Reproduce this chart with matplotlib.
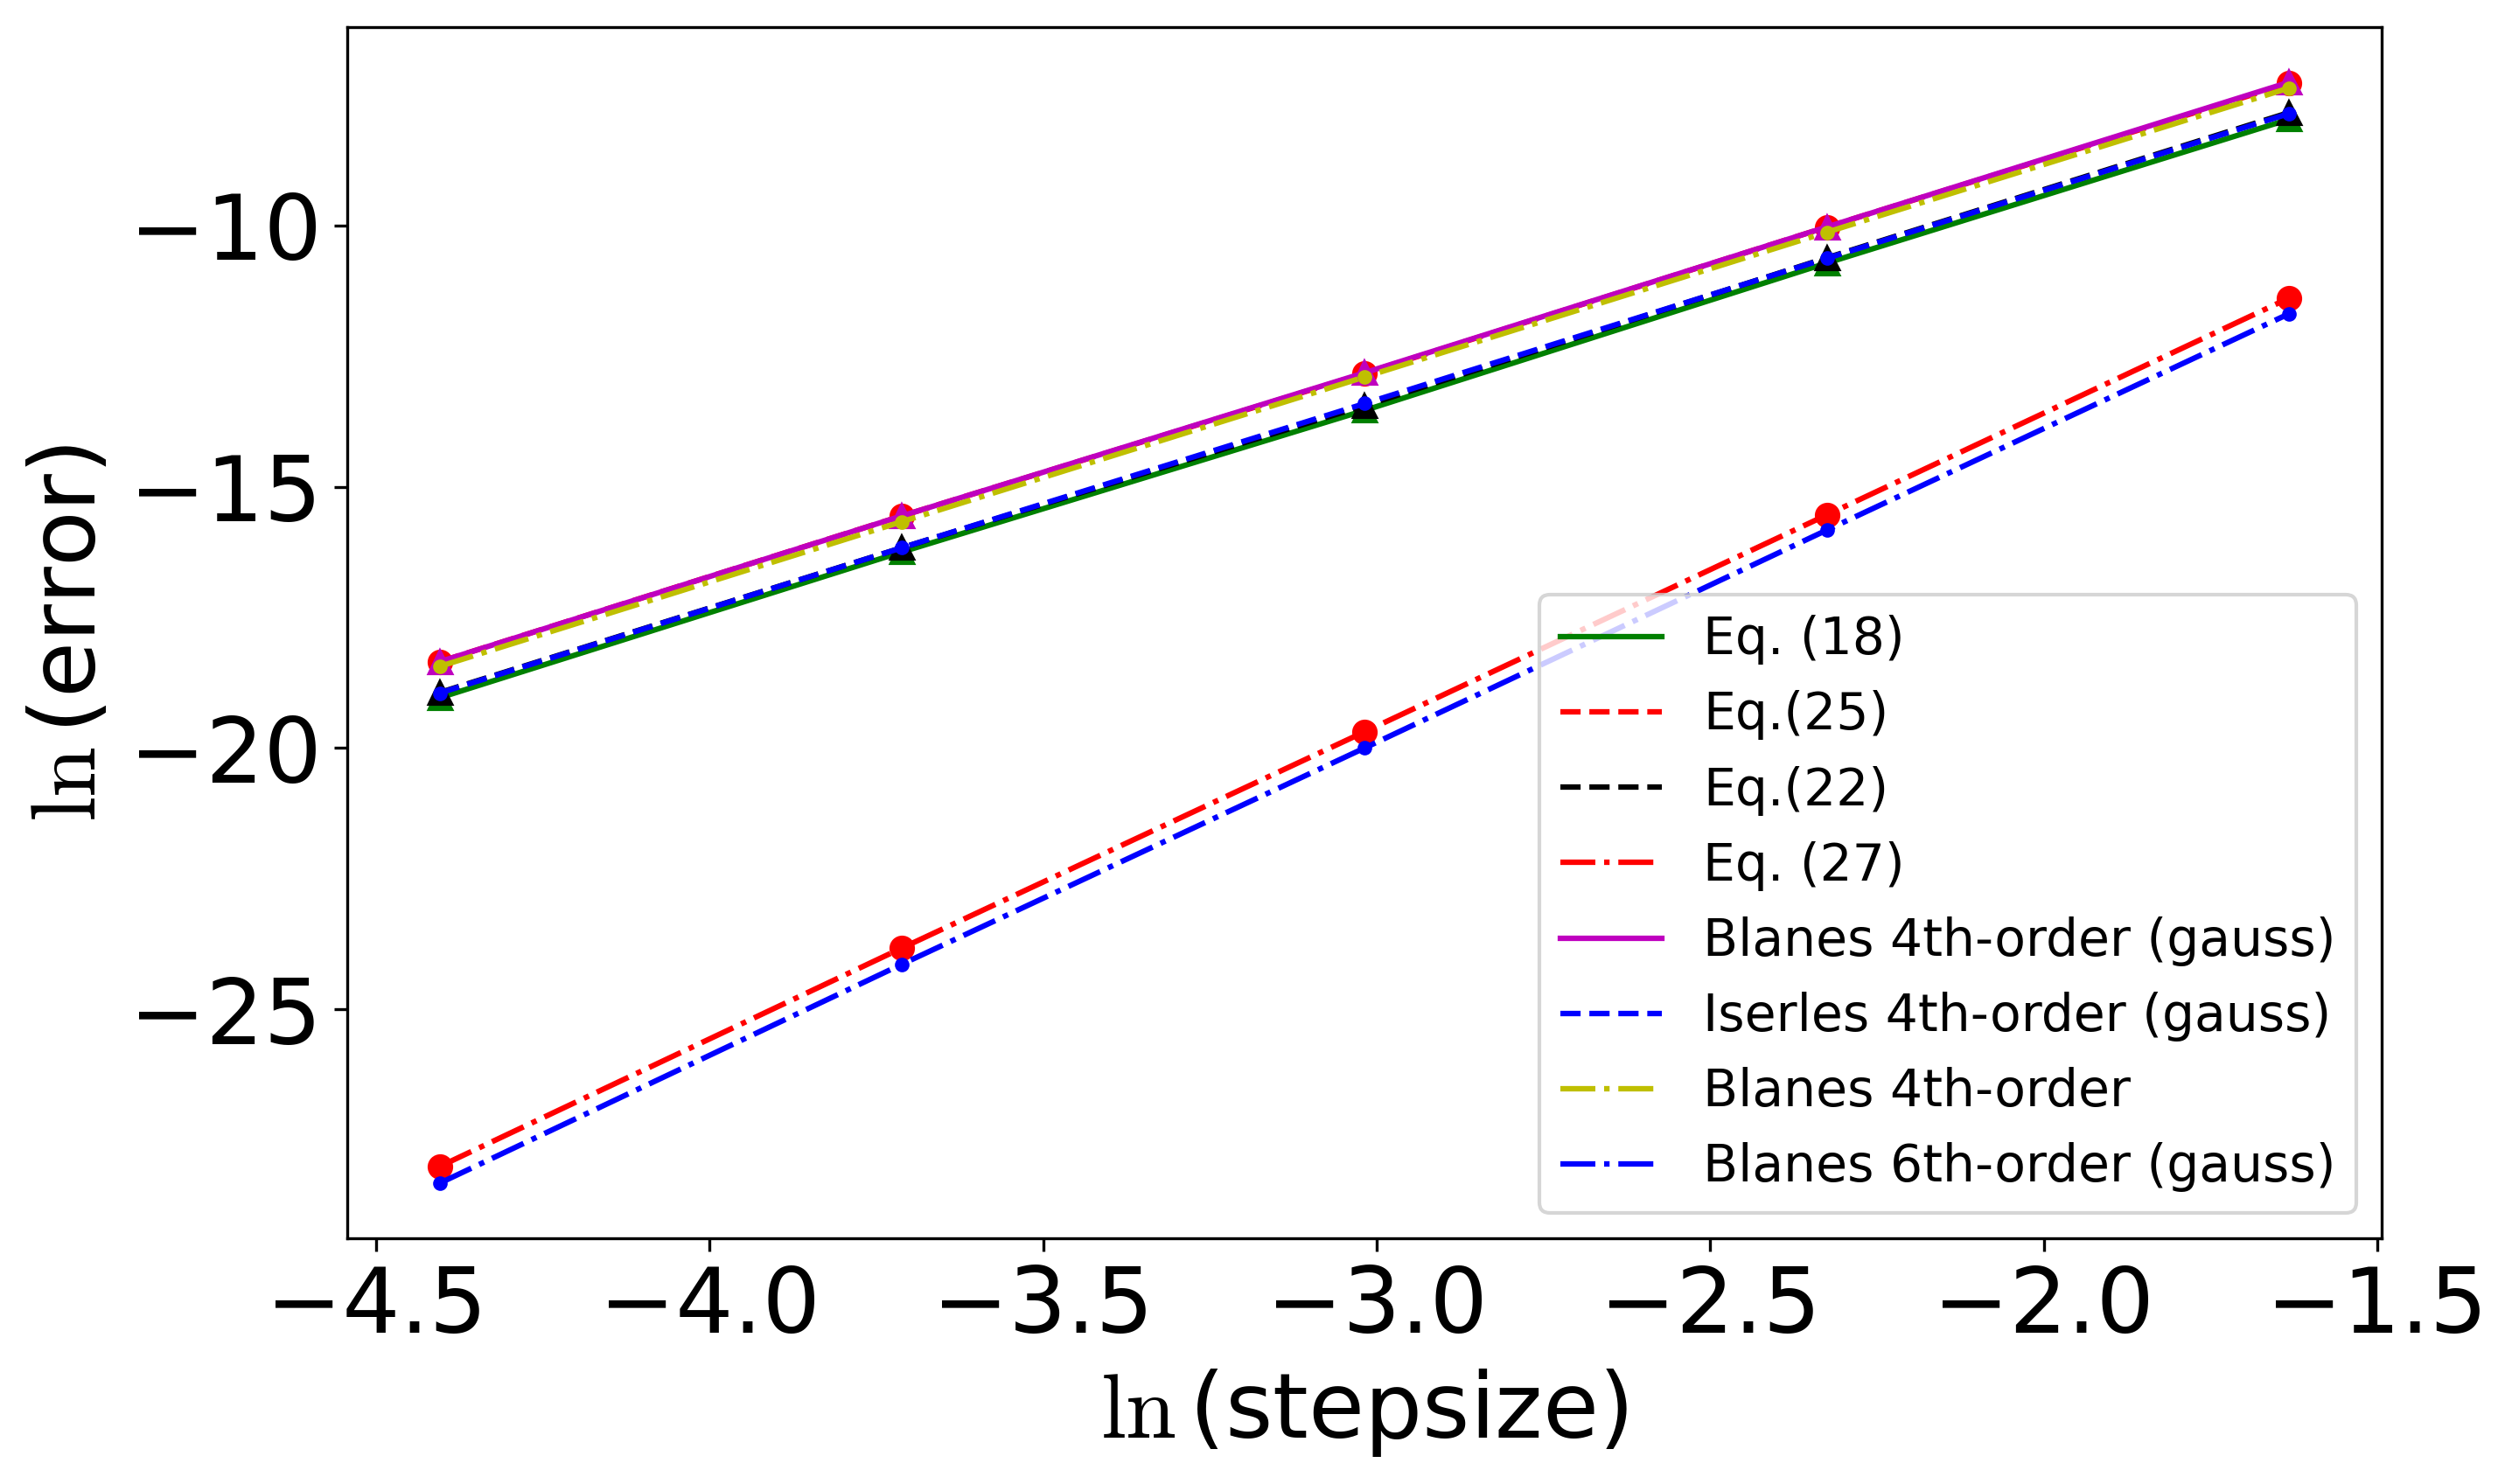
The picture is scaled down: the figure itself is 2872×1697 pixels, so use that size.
import numpy as np
import matplotlib
matplotlib.use('Agg')
import matplotlib.pyplot as plt

plt.rcParams['mathtext.fontset'] = 'cm'

# ln(stepsize)
x = [-4.405, -3.712, -3.018, -2.325, -1.632]

# ln(error) for each method
eq18 = [-19.04, -16.25, -13.54, -10.72, -7.97]
eq25 = [-18.35, -15.56, -12.83, -10.03, -7.28]
eq22 = [-18.94, -16.17, -13.45, -10.62, -7.84]
eq27 = [-28.01, -23.83, -19.69, -15.54, -11.39]
blanes4_gauss = [-18.35, -15.56, -12.82, -10.03, -7.26]
iserles4_gauss = [-18.95, -16.17, -13.41, -10.63, -7.86]
blanes4 = [-18.44, -15.67, -12.90, -10.13, -7.37]
blanes6_gauss = [-28.33, -24.14, -20.00, -15.83, -11.69]

fig = plt.figure(figsize=(2872 / 300, 1697 / 300), dpi=300)
ax = fig.add_subplot(111)
fig.subplots_adjust(left=0.1382, right=0.9481, bottom=0.1656, top=0.9817)

# lines (with labels) and markers (without) plotted separately
ax.plot(x, eq18, 'g-', label='Eq. (18)')
ax.plot(x, eq18, 'g^')
ax.plot(x, eq25, 'r--', label='Eq.(25)')
ax.plot(x, eq25, 'ro')
ax.plot(x, eq22, 'k--', label='Eq.(22)')
ax.plot(x, eq22, 'k^')
ax.plot(x, eq27, 'r-.', label='Eq. (27)')
ax.plot(x, eq27, 'ro')
ax.plot(x, blanes4_gauss, 'm-', label='Blanes 4th-order (gauss)')
ax.plot(x, blanes4_gauss, 'm^')
ax.plot(x, iserles4_gauss, 'b--', label='Iserles 4th-order (gauss)')
ax.plot(x, iserles4_gauss, 'b.')
ax.plot(x, blanes4, 'y-.', label='Blanes 4th-order')
ax.plot(x, blanes4, 'y.')
ax.plot(x, blanes6_gauss, 'b-.', label='Blanes 6th-order (gauss)')
ax.plot(x, blanes6_gauss, 'b.')

ax.set_xlabel(r'$\ln$(stepsize)', fontsize=25)
ax.set_ylabel(r'$\ln$(error)', fontsize=25)
ax.tick_params(labelsize=25)
ax.legend(loc='lower right', fontsize=14)

plt.savefig('out.png', dpi=300)
